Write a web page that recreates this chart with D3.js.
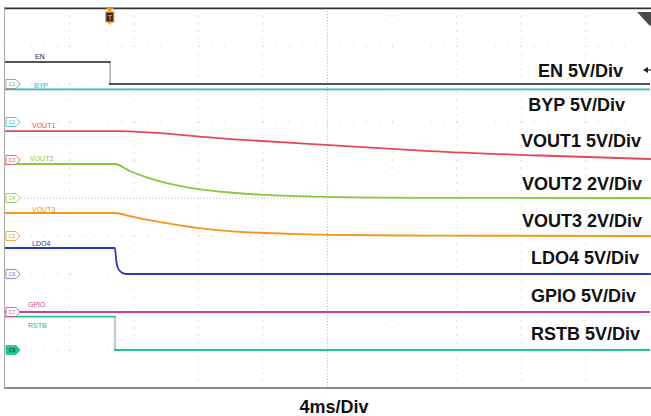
<!DOCTYPE html>
<meta charset="utf-8">
<style>
body { margin: 0; background: #fff; }
svg { display: block; font-family: "Liberation Sans", Arial, sans-serif; }
</style>
<svg width="651" height="416"></svg>
<script src="https://d3js.org/d3.v7.min.js"></script>
<script>

// scope settings
var channels    = ["EN", "BYP", "VOUT1", "VOUT2", "VOUT3", "LDO4", "GPIO", "RSTB"];
var voltsPerDiv = [5, 5, 5, 2, 2, 5, 5, 5];
var offsetDiv   = [3, 2, 1, 0, -1, -2, -3, -4];   // ground marker of each channel, in divisions
var msPerDiv    = 4;
var timeStart   = -6.5;                           // ms at left edge, trigger = 0

// traces: [time ms, volts]
var traceEN    = [[-6.5, 2.9], [0, 2.9], [0, 0], [33.5, 0]];
var traceBYP   = [[-6.5, 4.3], [33.5, 4.3]];
var traceVOUT1 = [[-6.5, 3.8], [0.43, 3.8], [7.44, 2.76], [13.64, 1.97], [19.84, 1.18], [26.67, 0.59], [33.55, 0.13]];
var traceVOUT2 = [[-6.5, 1.79], [0.31, 1.79], [1.24, 1.42], [2.29, 1.09], [3.29, 0.84], [4.34, 0.64], [5.4, 0.48],
                  [6.82, 0.34], [7.44, 0.29], [9.3, 0.18], [11.16, 0.11], [13.64, 0.06], [19.84, 0.01], [33.55, 0]];
var traceVOUT3 = [[-6.5, 1.21], [0.31, 1.21], [1.24, 1.05], [2.29, 0.86], [3.29, 0.71], [4.34, 0.56], [5.4, 0.43],
                  [6.82, 0.3], [9.3, 0.17], [11.16, 0.11], [13.64, 0.06], [19.84, 0.02], [33.55, 0]];
var traceLDO4  = [[-6.5, 3.42], [0.31, 3.42], [0.42, 1.45], [0.5, 0.79], [0.73, 0.2], [1.05, 0], [33.55, 0]];
var traceGPIO  = [[-6.5, 0], [33.5, 0]];
var traceRSTB  = [[-6.5, 4.38], [0.31, 4.38], [0.31, 0], [33.5, 0]];

var traces = [traceEN, traceBYP, traceVOUT1, traceVOUT2, traceVOUT3, traceLDO4, traceGPIO, traceRSTB];
var smooth = [false, false, true, true, true, true, false, false];

var scaleLabels = ["EN 5V/Div", "BYP 5V/Div", "VOUT1 5V/Div", "VOUT2 2V/Div", "VOUT3 2V/Div",
                   "LDO4 5V/Div", "GPIO 5V/Div", "RSTB 5V/Div"];
var timeLabel = "4ms/Div";

// styles
var colors      = ["#1e1e1e", "#2bbcc4", "#e8465f", "#8cc63f", "#f7941d", "#2e36b8", "#d63c95", "#23c48e"];
var markerColor = ["#8a8a8a", "#2bbcc4", "#e8465f", "#8cc63f", "#f7941d", "#6a6ad8", "#d63c95", "#23c48e"];
var nameX   = [35, 34, 32, 30, 32, 32, 28, 28];
var nameY   = [58.5, 87.5, 128, 160.5, 211.5, 246.3, 307, 328];
var labelX  = [623, 625, 641, 642, 642, 639, 636, 640];
var labelY  = [76.5, 110.5, 147, 189.5, 226.5, 263.5, 301.5, 339.5];

var svg = d3.select("svg");

var x = d3.scaleLinear()
    .domain([timeStart, timeStart + 10 * msPerDiv])
    .range([5, 650]);

var y = d3.scaleLinear()
    .domain([-5, 5])
    .range([388, 8]);

var divX = (x.range()[1] - x.range()[0]) / 10,
    divY = (y.range()[0] - y.range()[1]) / 10;

// graticule
var grid = svg.append("g").attr("class", "grid");

d3.range(1, 10).forEach(function(i) {
  var gx = x(timeStart + i * msPerDiv);
  grid.append("line")
      .attr("x1", gx).attr("x2", gx)
      .attr("y1", y(5)).attr("y2", y(-5))
      .attr("stroke", i == 5 ? "#b4b4b4" : "#c8c8c8")
      .attr("stroke-width", 1)
      .attr("stroke-dasharray", i == 5 ? "1,2.04" : "1," + (divY / 5 - 1));
});

d3.range(-4, 5).forEach(function(i) {
  var gy = y(i);
  grid.append("line")
      .attr("x1", x.range()[0]).attr("x2", x.range()[1])
      .attr("y1", gy).attr("y2", gy)
      .attr("stroke", i == 0 ? "#b4b4b4" : "#c8c8c8")
      .attr("stroke-width", 1)
      .attr("stroke-dasharray", i == 0 ? "1,2.2" : "1," + (divX / 5 - 1));
});

// frame
svg.append("line").attr("x1", 4).attr("x2", 651).attr("y1", 8.3).attr("y2", 8.3)
    .attr("stroke", "#333").attr("stroke-width", 1.8);
svg.append("line").attr("x1", 4).attr("x2", 651).attr("y1", 388).attr("y2", 388)
    .attr("stroke", "#666").attr("stroke-width", 1.6);
svg.append("line").attr("x1", 4.5).attr("x2", 4.5).attr("y1", 8).attr("y2", 388)
    .attr("stroke", "#aaa").attr("stroke-width", 1);

// traces
traces.forEach(function(tr, i) {
  var line = d3.line()
      .x(function(d) { return x(d[0]); })
      .y(function(d) { return y(offsetDiv[i] + d[1] / voltsPerDiv[i]); })
      .curve(smooth[i] ? d3.curveMonotoneX : d3.curveLinear);
  svg.append("path")
      .datum(tr)
      .attr("fill", "none")
      .attr("stroke", colors[i])
      .attr("stroke-width", i == 0 ? 1.5 : 1.8)
      .attr("d", line);

  // fast edges show up faint on the scope
  for (var k = 1; k < tr.length; k++) {
    if (tr[k][0] == tr[k - 1][0]) {
      svg.append("line")
          .attr("x1", x(tr[k][0])).attr("x2", x(tr[k][0]))
          .attr("y1", y(offsetDiv[i] + tr[k - 1][1] / voltsPerDiv[i]) + 1)
          .attr("y2", y(offsetDiv[i] + tr[k][1] / voltsPerDiv[i]) - 1)
          .attr("stroke", "#c9cfd2")
          .attr("stroke-width", 1.8);
    }
  }
});

// channel ground markers
channels.forEach(function(c, i) {
  var my = y(offsetDiv[i]);
  var g = svg.append("g").attr("transform", "translate(6," + my + ")");
  g.append("path")
      .attr("d", "M0,-4.5H10L14,0L10,4.5H0Z")
      .attr("fill", i == 7 ? markerColor[i] : "#fff")
      .attr("stroke", markerColor[i])
      .attr("stroke-width", 0.8);
  g.append("text")
      .attr("x", 6).attr("y", 1.8)
      .attr("text-anchor", "middle")
      .attr("font-size", 5)
      .attr("font-weight", i == 7 ? "bold" : "normal")
      .attr("fill", i == 7 ? "#14573f" : markerColor[i])
      .text("C" + (i + 1));
});

// channel names
channels.forEach(function(c, i) {
  svg.append("text")
      .attr("x", nameX[i]).attr("y", nameY[i])
      .attr("font-size", 7)
      .attr("fill", colors[i])
      .text(c);
});

// scale labels
scaleLabels.forEach(function(s, i) {
  svg.append("text")
      .attr("x", labelX[i]).attr("y", labelY[i])
      .attr("text-anchor", "end")
      .attr("font-size", 18)
      .attr("font-weight", "bold")
      .attr("fill", "#111")
      .text(s);
});

svg.append("text")
    .attr("x", 334).attr("y", 413)
    .attr("text-anchor", "middle")
    .attr("font-size", 18)
    .attr("font-weight", "bold")
    .attr("fill", "#111")
    .text(timeLabel);

// trigger marker
var tx = x(0);
var trig = svg.append("g").attr("transform", "translate(" + tx + ",0)");
trig.append("path").attr("d", "M-4,8L4,8L0,12Z").attr("fill", "#f7941d");
trig.append("rect").attr("x", -4).attr("y", 12).attr("width", 8).attr("height", 10)
    .attr("fill", "#2b2b2b").attr("stroke", "#f7941d").attr("stroke-width", 1.2);
trig.append("text").attr("x", 0).attr("y", 20).attr("text-anchor", "middle")
    .attr("font-size", 7).attr("font-weight", "bold").attr("fill", "#f7941d").text("T");
trig.append("path").attr("d", "M-2,22.5L2,22.5L0,25Z").attr("fill", "#f7941d");

// top-right indicator and trigger level arrow
svg.append("path").attr("d", "M637,12L664,12L650,26Z").attr("fill", "#4a4a4a");
svg.append("path").attr("d", "M643,70L648,67L648,73Z").attr("fill", "#222");
svg.append("line").attr("x1", 647).attr("x2", 651).attr("y1", 70).attr("y2", 70)
    .attr("stroke", "#222").attr("stroke-width", 1.2);

</script>
